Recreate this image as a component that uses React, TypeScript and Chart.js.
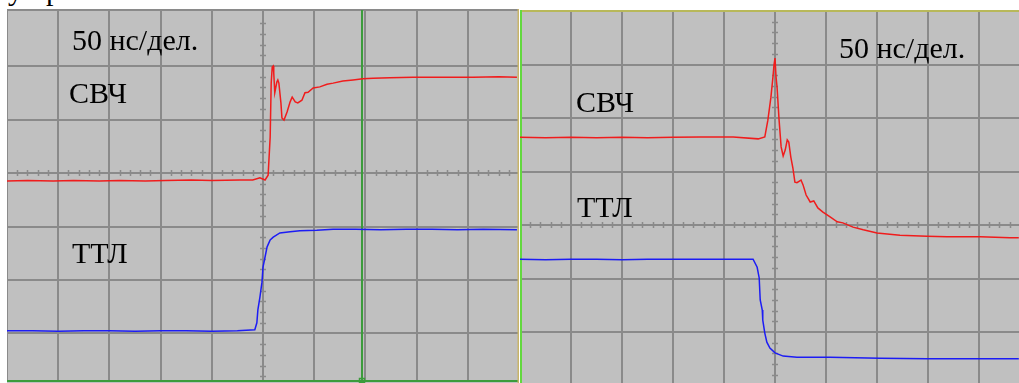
import React, { useEffect, useRef } from "react";
import { Chart, registerables } from "chart.js";

Chart.register(...registerables);

// ---- Left screen (rising edge), values in divisions ----
const leftRfX = [0, 0.4, 0.9, 1.3, 1.8, 2.2, 2.7, 3.1, 3.6, 4.0, 4.55, 4.8, 4.94, 5.04, 5.1, 5.14, 5.16, 5.18, 5.2, 5.21, 5.23, 5.27, 5.29, 5.31, 5.35, 5.37, 5.41, 5.47, 5.53, 5.57, 5.63, 5.68, 5.76, 5.82, 5.88, 5.98, 6.11, 6.25, 6.37, 6.56, 6.76, 6.95, 7.15, 7.48, 7.93, 8.46, 9.1, 9.6, 9.96];
const leftRfY = [-0.15, -0.14, -0.15, -0.14, -0.15, -0.14, -0.15, -0.14, -0.13, -0.14, -0.13, -0.13, -0.09, -0.13, -0.04, 0.67, 1.68, 1.98, 2.0, 1.87, 1.5, 1.7, 1.74, 1.68, 1.31, 1.03, 0.99, 1.14, 1.33, 1.42, 1.33, 1.31, 1.36, 1.5, 1.51, 1.59, 1.61, 1.66, 1.68, 1.72, 1.74, 1.76, 1.77, 1.78, 1.79, 1.79, 1.79, 1.8, 1.79];
const leftTtlX = [0, 0.5, 1.0, 1.5, 2.0, 2.5, 3.0, 3.5, 4.0, 4.5, 4.84, 4.88, 4.9, 4.94, 4.98, 5.0, 5.04, 5.08, 5.14, 5.2, 5.33, 5.53, 5.72, 6.05, 6.37, 6.8, 7.3, 7.8, 8.3, 8.8, 9.3, 9.96];
const leftTtlY = [-2.95, -2.95, -2.96, -2.95, -2.95, -2.96, -2.95, -2.95, -2.96, -2.95, -2.93, -2.8, -2.56, -2.32, -2.04, -1.76, -1.57, -1.38, -1.25, -1.2, -1.12, -1.1, -1.08, -1.07, -1.05, -1.05, -1.06, -1.05, -1.05, -1.06, -1.05, -1.06];

// ---- Right screen (falling edge), values in divisions ----
const rightRfX = [0, 0.5, 1.0, 1.5, 2.0, 2.5, 3.0, 3.53, 4.18, 4.67, 4.8, 4.86, 4.92, 4.96, 4.98, 5.0, 5.02, 5.04, 5.08, 5.12, 5.16, 5.2, 5.24, 5.27, 5.31, 5.35, 5.39, 5.43, 5.51, 5.55, 5.61, 5.69, 5.76, 5.84, 5.94, 6.08, 6.22, 6.33, 6.53, 6.73, 7.0, 7.2, 7.45, 7.98, 8.37, 9.02, 9.61, 9.78];
const rightRfY = [1.64, 1.63, 1.64, 1.63, 1.64, 1.63, 1.64, 1.645, 1.645, 1.61, 1.645, 1.96, 2.39, 2.77, 2.99, 3.12, 2.77, 2.58, 1.96, 1.46, 1.29, 1.4, 1.59, 1.55, 1.27, 1.07, 0.8, 0.79, 0.84, 0.75, 0.56, 0.43, 0.45, 0.32, 0.24, 0.15, 0.06, 0.04, -0.04, -0.09, -0.15, -0.17, -0.19, -0.21, -0.22, -0.22, -0.24, -0.24];
const rightTtlX = [0, 0.5, 1.0, 1.5, 2.0, 2.5, 3.14, 3.8, 4.3, 4.57, 4.65, 4.69, 4.71, 4.75, 4.76, 4.8, 4.84, 4.9, 5.0, 5.16, 5.43, 6.08, 7.06, 7.98, 9.02, 9.78];
const rightTtlY = [-0.64, -0.65, -0.64, -0.64, -0.65, -0.64, -0.64, -0.64, -0.64, -0.64, -0.79, -0.99, -1.4, -1.59, -1.78, -2.02, -2.19, -2.3, -2.39, -2.45, -2.47, -2.47, -2.49, -2.5, -2.5, -2.5];

// ---- Grid tick values (divisions) ----
const leftXTicks = [0, 1, 2, 3, 4, 5, 6, 7, 8, 9, 10];
const leftYTicks = [-3, -2, -1, 0, 1, 2, 3.047];
const rightXTicks = [0, 1, 2, 3, 4, 5, 6, 7, 8, 9];
const rightYTicks = [-2, -1, 0, 1, 2, 3, 4];

const GRID = "#8a8a8a";
const BG = "#c0c0c0";
const FONT = '"Liberation Serif", "Times New Roman", serif';

const zip = (xs: number[], ys: number[]) => xs.map((x, i) => ({ x, y: ys[i] }));

const bgPlugin = {
  id: "scopeBg",
  beforeDraw(chart: any) {
    const { ctx, width, height } = chart;
    ctx.save();
    ctx.fillStyle = BG;
    ctx.fillRect(0, 0, width, height);
    ctx.restore();
  },
};

const decoPlugin = {
  id: "scopeDeco",
  beforeDatasetsDraw(chart: any, _args: any, opts: any) {
    const { ctx, chartArea, scales } = chart;
    const x = scales.x;
    const y = scales.y;
    ctx.save();
    // minor ticks on the centre lines
    ctx.strokeStyle = GRID;
    ctx.lineWidth = 1.5;
    const cx = Math.round(x.getPixelForValue(opts.xCenter));
    const cy = Math.round(y.getPixelForValue(opts.yCenter));
    for (let i = Math.ceil(x.min * 5); i <= Math.floor(x.max * 5); i++) {
      if (i % 5 === 0) continue;
      const px = Math.round(x.getPixelForValue(i / 5)) + 0.5;
      ctx.beginPath();
      ctx.moveTo(px, cy - 3);
      ctx.lineTo(px, cy + 3);
      ctx.stroke();
    }
    for (let i = Math.ceil(y.min * 5); i <= Math.floor(y.max * 5); i++) {
      if (i % 5 === 0) continue;
      const py = Math.round(y.getPixelForValue(i / 5)) + 0.5;
      ctx.beginPath();
      ctx.moveTo(cx - 3, py);
      ctx.lineTo(cx + 3, py);
      ctx.stroke();
    }
    // frame decorations
    if (opts.cursor != null) {
      const px = Math.round(x.getPixelForValue(opts.cursor));
      ctx.fillStyle = "#3c9c3c";
      ctx.fillRect(px - 1, chartArea.top, 2, chartArea.bottom - chartArea.top);
      ctx.fillRect(chartArea.left, chartArea.bottom - 1, chartArea.right - chartArea.left, 2);
      ctx.strokeStyle = "#3c9c3c";
      ctx.lineWidth = 1.5;
      ctx.strokeRect(px - 2.5, chartArea.bottom - 2.5, 5, 4);
      ctx.fillStyle = "#c8b46a";
      ctx.fillRect(chartArea.right - 1.5, 0, 1.5, chart.height);
    }
    if (opts.frameLeft) {
      ctx.fillStyle = "#b8b85a";
      ctx.fillRect(0, chartArea.top - 1, chartArea.right, 2);
      ctx.fillStyle = "#62d83e";
      ctx.fillRect(0, 0, 2, chart.height);
    }
    ctx.restore();
  },
};

type ScopeProps = {
  left: number;
  top: number;
  width: number;
  height: number;
  padTop: number;
  padBottom: number;
  xMax: number;
  yMin: number;
  yMax: number;
  xTicks: number[];
  yTicks: number[];
  rf: { x: number; y: number }[];
  ttl: { x: number; y: number }[];
  deco: any;
};

function Scope(p: ScopeProps) {
  const ref = useRef<HTMLCanvasElement>(null);
  useEffect(() => {
    const chart = new Chart(ref.current as HTMLCanvasElement, {
      type: "line",
      data: {
        datasets: [
          { label: "СВЧ", data: p.rf, borderColor: "#f01c1c", borderWidth: 1.5, pointRadius: 0, tension: 0 },
          { label: "ТТЛ", data: p.ttl, borderColor: "#1c1cf4", borderWidth: 1.5, pointRadius: 0, tension: 0 },
        ],
      },
      options: {
        animation: false,
        responsive: false,
        devicePixelRatio: 1,
        layout: { padding: { top: p.padTop, bottom: p.padBottom, left: 0, right: 0 } },
        plugins: {
          legend: { display: false },
          tooltip: { enabled: false },
          scopeDeco: p.deco,
        } as any,
        scales: {
          x: {
            type: "linear",
            min: 0,
            max: p.xMax,
            afterBuildTicks: (ax: any) => {
              ax.ticks = p.xTicks.map((value) => ({ value }));
            },
            ticks: { display: false },
            grid: { color: GRID, lineWidth: 2, drawTicks: false },
            border: { display: false },
          },
          y: {
            type: "linear",
            min: p.yMin,
            max: p.yMax,
            afterBuildTicks: (ax: any) => {
              ax.ticks = p.yTicks.map((value) => ({ value }));
            },
            ticks: { display: false },
            grid: { color: GRID, lineWidth: 2, drawTicks: false },
            border: { display: false },
          },
        },
      },
      plugins: [bgPlugin, decoPlugin],
    });
    return () => chart.destroy();
  }, []);
  return (
    <canvas
      ref={ref}
      width={p.width}
      height={p.height}
      style={{ position: "absolute", left: p.left, top: p.top, width: p.width, height: p.height }}
    />
  );
}

const labelStyle = (left: number, top: number): React.CSSProperties => ({
  position: "absolute",
  left,
  top,
  fontFamily: FONT,
  fontSize: 30,
  lineHeight: "30px",
  color: "#000",
  whiteSpace: "nowrap",
});

export default function App() {
  return (
    <div
      style={{
        position: "fixed",
        left: 0,
        top: 0,
        width: 1019,
        height: 383,
        overflow: "hidden",
        background: "#fff",
      }}
    >
      <span style={labelStyle(8, -25)}>у</span>
      <span style={labelStyle(46, -25)}>р</span>
      <Scope
        left={7}
        top={9}
        width={512}
        height={374}
        padTop={1}
        padBottom={2}
        xMax={10}
        yMin={-3.888}
        yMax={3.047}
        xTicks={leftXTicks}
        yTicks={leftYTicks}
        rf={zip(leftRfX, leftRfY)}
        ttl={zip(leftTtlX, leftTtlY)}
        deco={{ xCenter: 5, yCenter: 0, cursor: 6.93 }}
      />
      <Scope
        left={520}
        top={10}
        width={499}
        height={373}
        padTop={1}
        padBottom={0}
        xMax={9.784}
        yMin={-2.953}
        yMax={4}
        xTicks={rightXTicks}
        yTicks={rightYTicks}
        rf={zip(rightRfX, rightRfY)}
        ttl={zip(rightTtlX, rightTtlY)}
        deco={{ xCenter: 5, yCenter: 0, frameLeft: true }}
      />
      <div style={labelStyle(72, 25)}>50 нс/дел.</div>
      <div style={labelStyle(69, 78)}>СВЧ</div>
      <div style={labelStyle(72, 238)}>ТТЛ</div>
      <div style={labelStyle(839, 33)}>50 нс/дел.</div>
      <div style={labelStyle(576, 87)}>СВЧ</div>
      <div style={labelStyle(577, 192)}>ТТЛ</div>
    </div>
  );
}
